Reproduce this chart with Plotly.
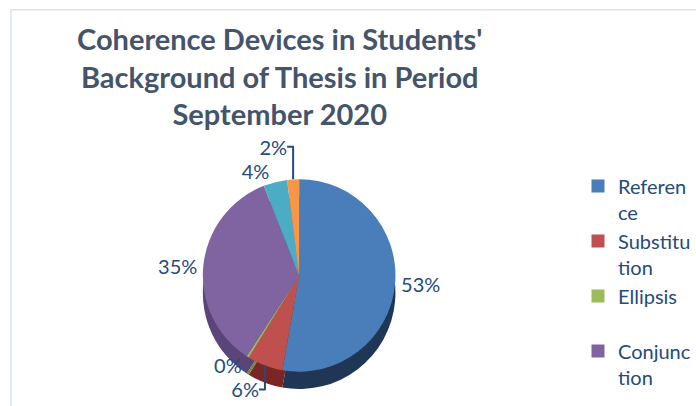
import plotly.graph_objects as go

# ---- data ----
categories = ["Reference", "Substitution", "Ellipsis", "Conjunction", "Other A", "Other B"]
values = [53, 6, 0.4, 35, 4, 2]
legend_labels = ["Referen<br>ce", "Substitu<br>tion", "Ellipsis<br>\u00a0", "Conjunc<br>tion"]
title_lines = ["Coherence Devices in Students'", "Background of Thesis in Period", "September 2020"]
top_colors = ["#4A7EBB", "#C0504D", "#9BBB59", "#8064A2", "#4BACC6", "#F79646"]
side_colors = ["#1F3655", "#7A2624", "#6A8A35", "#5A4478", "#2E7F96", "#B86A24"]

W, H = 696, 406
TEXT_BLUE = "#254A7C"

fig = go.Figure()

# depth (side wall) pie, shifted down
fig.add_trace(go.Pie(
    labels=categories, values=values, sort=False, direction="clockwise", rotation=0,
    marker=dict(colors=side_colors, line=dict(width=0)),
    textinfo="none", hoverinfo="skip", showlegend=False,
    domain=dict(x=[200 / W, 400 / W], y=[1 - 404 / H, 1 - 204 / H]),
))
# top pie
fig.add_trace(go.Pie(
    labels=categories, values=values, sort=False, direction="clockwise", rotation=0,
    marker=dict(colors=top_colors, line=dict(width=0)),
    texttemplate="%{percent:.0%}", textposition="outside",
    outsidetextfont=dict(family="Lato", size=20, color=TEXT_BLUE),
    showlegend=False,
    domain=dict(x=[200 / W, 400 / W], y=[1 - 386 / H, 1 - 186 / H]),
))

# legend entries (first four categories)
for name, col in zip(legend_labels, top_colors[:4]):
    fig.add_trace(go.Scatter(
        x=[None], y=[None], mode="markers", name=name,
        marker=dict(symbol="square", size=13, color=col),
    ))

fig.update_layout(
    width=W, height=H,
    margin=dict(l=0, r=0, t=0, b=0),
    paper_bgcolor="white", plot_bgcolor="white",
    xaxis=dict(visible=False), yaxis=dict(visible=False),
    annotations=[dict(
        text="<b>" + "<br>".join(title_lines) + "</b>",
        xref="paper", yref="paper", x=280 / W, xanchor="center",
        y=1 - 20 / H, yanchor="top", showarrow=False, align="center",
        font=dict(family="Lato", size=29, color="#44546A"),
    )],
    legend=dict(
        x=580 / W, xanchor="left", y=1 - 173 / H, yanchor="top",
        font=dict(family="Lato", size=20, color=TEXT_BLUE),
        valign="top", bgcolor="rgba(0,0,0,0)", itemwidth=30,
    ),
    shapes=[dict(
        type="rect", xref="paper", yref="paper",
        x0=11 / W, x1=1.05, y0=-0.05, y1=1 - 10 / H,
        line=dict(color="#D9E3F1", width=1.5), fillcolor="rgba(0,0,0,0)", layer="below",
    )],
)

fig.write_html("out.html")
